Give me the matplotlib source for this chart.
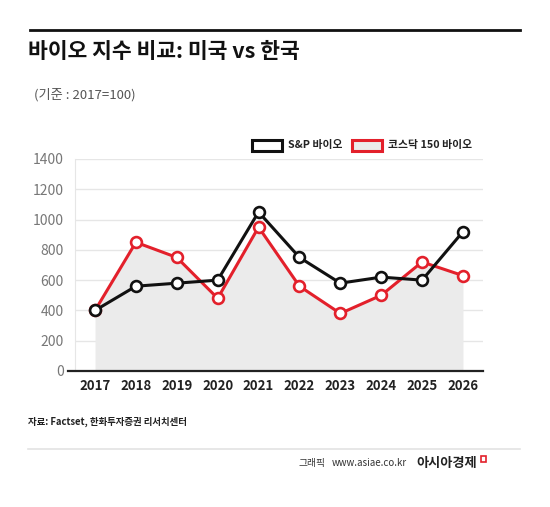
import matplotlib.pyplot as plt
from matplotlib.patches import Rectangle
from matplotlib.lines import Line2D

plt.rcParams['font.family'] = ['Noto Sans CJK KR', 'DejaVu Sans']

# data (2017 = 100 basis)
years = [2017, 2018, 2019, 2020, 2021, 2022, 2023, 2024, 2025, 2026]
sp_bio = [400, 560, 580, 600, 1050, 750, 580, 620, 600, 920]
kosdaq_bio = [400, 850, 750, 480, 950, 560, 380, 500, 720, 630]
yticks = [0, 200, 400, 600, 800, 1000, 1200, 1400]

RED = '#e3202b'
FILL = '#ebebeb'

fig = plt.figure(figsize=(5.5, 5.07), dpi=100)
ax = fig.add_axes([75 / 550, 1 - 371 / 507, 408 / 550, 212 / 507])

ax.fill_between(years, kosdaq_bio, 0, color=FILL, zorder=1, lw=0)
ax.plot(years, kosdaq_bio, color=RED, lw=2.2, marker='o', ms=7.8,
        mfc='white', mec=RED, mew=1.9, zorder=3)
ax.plot(years, sp_bio, color='#111111', lw=2.2, marker='o', ms=7.8,
        mfc='white', mec='#111111', mew=1.9, zorder=4)

ax.set_xlim(2016.51, 2026.49)
ax.set_ylim(0, 1400)
ax.set_xticks(years)
ax.set_yticks(yticks)
ax.set_yticklabels([str(v) for v in yticks], color='#777777', fontsize=10)
ax.set_xticklabels([str(y) for y in years], color='#222222', fontsize=9.5,
                   fontweight='bold')
ax.tick_params(axis='both', length=0)
ax.tick_params(axis='y', pad=8)
ax.tick_params(axis='x', pad=6)
ax.grid(axis='y', color='#e6e6e6', lw=1)
ax.set_axisbelow(True)
for s in ['top', 'right', 'bottom']:
    ax.spines[s].set_visible(False)
ax.spines['left'].set_color('#e6e6e6')
ax.axhline(0, xmin=-0.018, xmax=1, color='#222222', lw=1.6, clip_on=False, zorder=5)

# title block
fig.add_artist(Line2D([30 / 550, 520 / 550], [1 - 30 / 507] * 2, color='#111111', lw=2))
fig.text(28 / 550, 1 - 52 / 507, '바이오 지수 비교: 미국 vs 한국', fontsize=15.5,
         fontweight='bold', va='center', color='#111111')
fig.text(34 / 550, 1 - 95 / 507, '(기준 : 2017=100)', fontsize=9.5,
         va='center', color='#555555')

# legend
fig.add_artist(Rectangle((252 / 550, 1 - 151 / 507), 30 / 550, 11 / 507,
                         facecolor='white', edgecolor='#111111', lw=2.2))
fig.text(288 / 550, 1 - 145 / 507, 'S&P 바이오', fontsize=7.8, fontweight='bold',
         va='center', color='#222222')
fig.add_artist(Rectangle((352 / 550, 1 - 151 / 507), 30 / 550, 11 / 507,
                         facecolor=FILL, edgecolor=RED, lw=2.2))
fig.text(388 / 550, 1 - 145 / 507, '코스닥 150 바이오', fontsize=7.8, fontweight='bold',
         va='center', color='#222222')

# footer
fig.text(28 / 550, 1 - 422 / 507, '자료: Factset, 한화투자증권 리서치센터', fontsize=6.8,
         fontweight='bold', va='center', color='#222222')
fig.add_artist(Line2D([28 / 550, 520 / 550], [1 - 449 / 507] * 2, color='#e3e3e3', lw=1.2))
fig.text(299 / 550, 1 - 463 / 507, '그래픽', fontsize=7, va='center', color='#333333')
fig.text(332 / 550, 1 - 463 / 507, 'www.asiae.co.kr', fontsize=7, va='center',
         color='#333333')
fig.text(416 / 550, 1 - 463 / 507, '아시아경제', fontsize=9.5, fontweight='bold',
         va='center', color='#222222')
fig.add_artist(Rectangle((481 / 550, 1 - 462 / 507), 5 / 550, 6 / 507,
                         facecolor='white', edgecolor=RED, lw=1.2))

fig.savefig('out.png', dpi=100, facecolor='white')
